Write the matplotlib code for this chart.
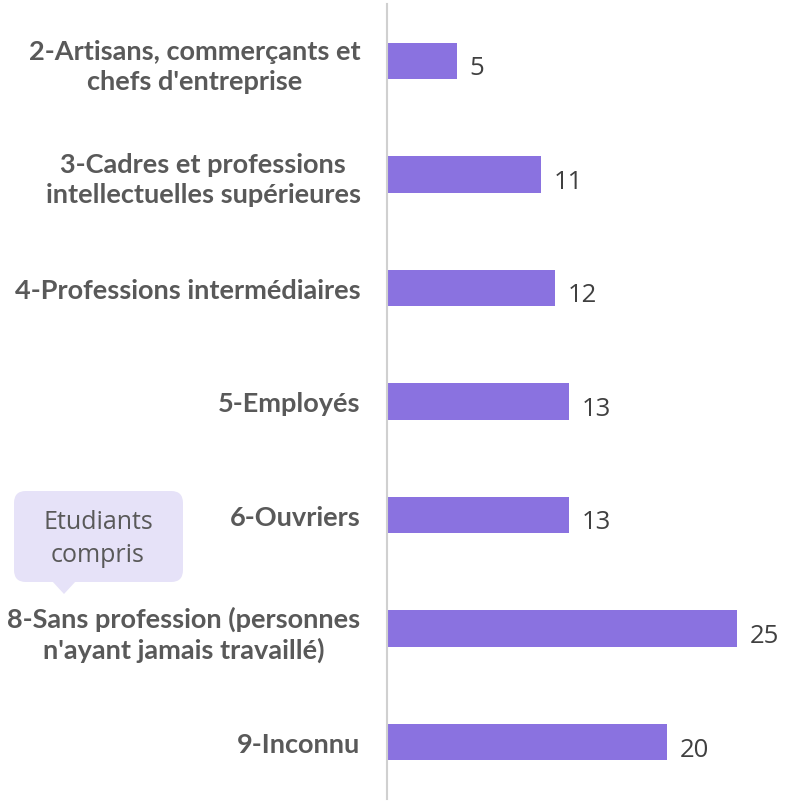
import matplotlib.pyplot as plt
from matplotlib.patches import FancyBboxPatch, Polygon

categories = [
    "2-Artisans, commerçants et\nchefs d'entreprise",
    "3-Cadres et professions\nintellectuelles supérieures",
    "4-Professions intermédiaires",
    "5-Employés",
    "6-Ouvriers",
    "8-Sans profession (personnes\nn'ayant jamais travaillé)",
    "9-Inconnu",
]
values = [5, 11, 12, 13, 13, 25, 20]

bar_color = "#8A72E0"
text_color = "#595959"

fig = plt.figure(figsize=(7.87, 8.03), dpi=100)
ax = fig.add_axes([387 / 787, 3 / 803, 400 / 787, 795 / 803])

y = list(range(len(categories)))
ax.barh(y, values, height=0.32, color=bar_color)
ax.set_ylim(len(categories) - 0.5, -0.5)
ax.set_xlim(0, 400 / 14)

for yi, v in zip(y, values):
    ax.text(v + 0.9, yi + 0.06, str(v), va="center", ha="left",
            fontsize=18.5, color="#404040", family="Open Sans")

ax.set_yticks(y)
ax.set_yticklabels(categories, fontsize=19.5, fontweight="bold",
                   color=text_color, family="Lato", linespacing=1.3)
ax.tick_params(axis="y", length=0, pad=19)
for lbl in ax.get_yticklabels():
    lbl.set_horizontalalignment("right")
    lbl.set_multialignment("center")
ax.set_xticks([])
for s in ["top", "right", "bottom"]:
    ax.spines[s].set_visible(False)
ax.spines["left"].set_color("#D0D0D0")
ax.spines["left"].set_linewidth(1.5)

# callout "Etudiants compris"
W, H = 787, 803
box = FancyBboxPatch((14 / W, 1 - 583 / H), 169 / W, 91 / H,
                     boxstyle="round,pad=0,rounding_size=0.015",
                     transform=fig.transFigure, facecolor="#E6E2F8",
                     edgecolor="none")
fig.patches.append(box)
tri = Polygon([(52 / W, 1 - 582 / H), (76 / W, 1 - 582 / H), (64 / W, 1 - 595 / H)],
              closed=True, transform=fig.transFigure, facecolor="#E6E2F8",
              edgecolor="none")
fig.patches.append(tri)
fig.text(98 / W, 1 - 539 / H, "Etudiants\ncompris", ha="center", va="center",
         fontsize=18, color=text_color, family="Open Sans", linespacing=1.4)

fig.savefig("out.png", dpi=100)
